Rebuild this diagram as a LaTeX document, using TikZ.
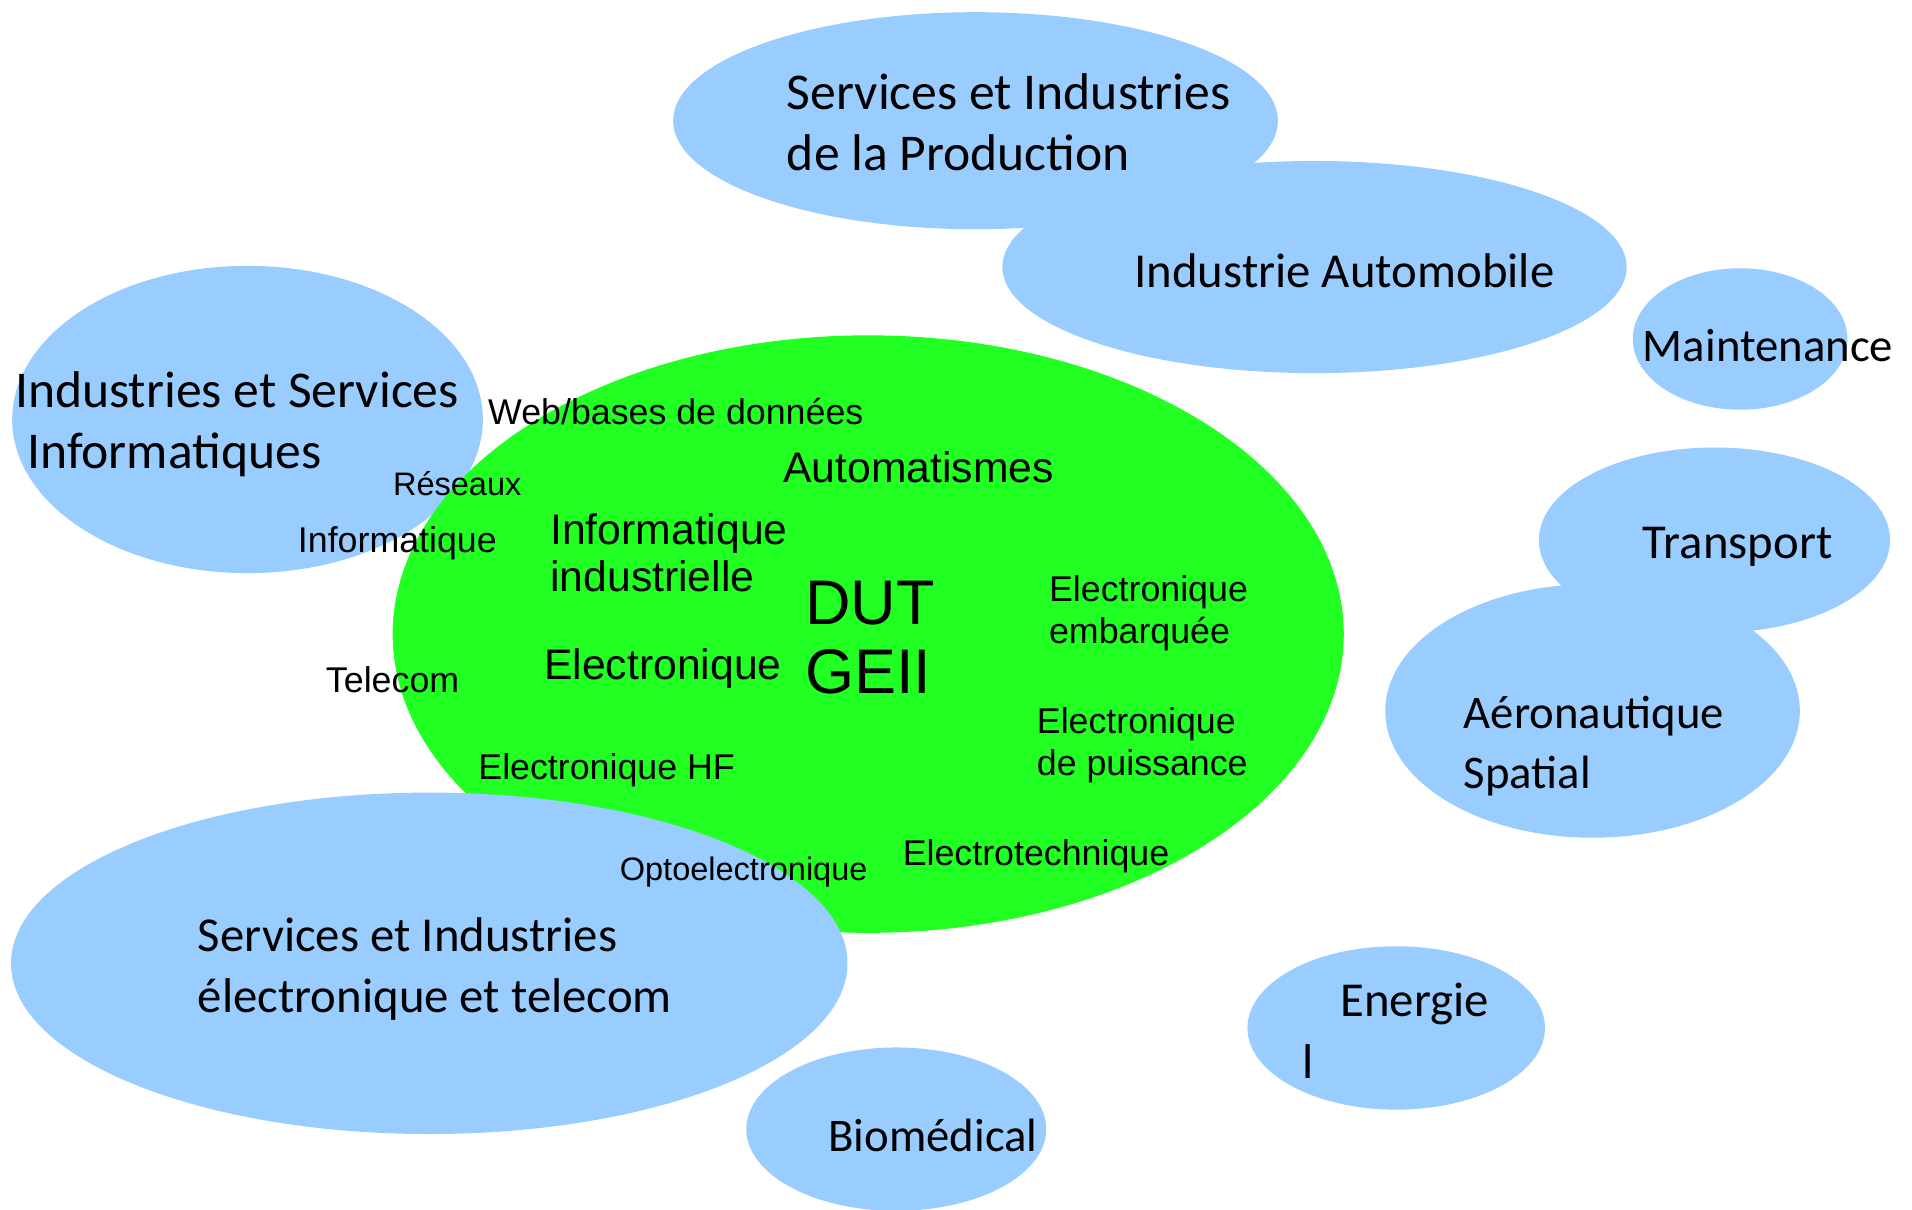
\documentclass[tikz,border=0pt]{standalone}
\usepackage{fontspec}
\setmainfont{Liberation Sans}
\newfontfamily\comicfont{Carlito}
\definecolor{skyb}{HTML}{99CCFF}
\definecolor{dutgreen}{HTML}{22FF22}
\begin{document}
\begin{tikzpicture}[x=0.6pt,y=-0.6pt,
  lbl/.style={anchor=west,inner sep=0pt,align=left,yshift=-1.4pt},
  cl/.style={lbl,font=\comicfont\fontsize{24}{30}\selectfont},
  clb/.style={lbl,font=\comicfont\fontsize{25.4}{30}\selectfont},
  cls/.style={lbl,font=\comicfont\fontsize{23}{29.4}\selectfont},
  al/.style={lbl,font=\fontsize{17.6}{21}\selectfont},
  alp/.style={lbl,font=\fontsize{17.6}{20.4}\selectfont},
  als/.style={lbl,font=\fontsize{16}{19}\selectfont},
  alb/.style={lbl,font=\fontsize{21}{23}\selectfont},
  alh/.style={lbl,font=\fontsize{31}{34}\selectfont}]
\useasboundingbox (0,0) rectangle (1568,991.5);
% blue domains
\fill[skyb] (800,99) ellipse [x radius=148.8pt, y radius=53.4pt];
\fill[skyb] (1078,219) ellipse [x radius=153.6pt, y radius=52.2pt];
\fill[skyb] (1427,278) ellipse [x radius=52.8pt, y radius=34.8pt];
\fill[skyb] (1306,583) ellipse [x radius=102pt, y radius=62.4pt];
\fill[skyb] (1406,443) ellipse [x radius=86.4pt, y radius=45.6pt];
\fill[skyb] (1145,843) ellipse [x radius=73.2pt, y radius=40.2pt];
\fill[skyb] (735,926) ellipse [x radius=73.8pt, y radius=40.2pt];
\fill[skyb] (203,344) ellipse [x radius=115.8pt, y radius=75.6pt];
% DUT
\fill[dutgreen] (712,520) ellipse [x radius=234pt, y radius=147pt];
\fill[skyb] (352,790) ellipse [x radius=205.8pt, y radius=84pt];
% comic labels
\node[clb] (prod) at (645,98) {Services et Industries\\de la Production};
\node[cl] (auto) at (930,220) {Industrie Automobile};
\node[cls] (maint) at (1347,281) {Maintenance};
\node[cl] (transp) at (1347,446) {Transport};
\node[cls] (aero) at (1200,609.5) {Aéronautique\\Spatial};
\node[cl] (energie) at (1099,821) {Energie};
\node[cl] (bar) at (1068,868) {l};
\node[cls] (bio) at (679,929) {Biomédical};
\node[cl] (electel) at (162,792.5) {Services et Industries\\électronique et telecom};
\node[clb] (infoserv) at (12,345.5) {Industries et Services\\\hspace*{6pt}Informatiques};
% DUT labels
\node[al] (web) at (400,335) {Web/bases de données};
\node[alb] (autom) at (642,381) {Automatismes};
\node[als] (reseaux) at (322,394) {Réseaux};
\node[al] (info) at (244,443) {Informatique};
\node[alb] (infoind) at (451,451) {Informatique\\industrielle};
\node[alh] (dut) at (660,520.5) {DUT\\GEII};
\node[al] (elemb) at (860,500.5) {Electronique\\embarquée};
\node[al] (telecom) at (267,555) {Telecom};
\node[alb] (elec) at (446,546) {Electronique};
\node[alp] (elpuis) at (850,609) {Electronique\\de puissance};
\node[al] (elhf) at (392,629) {Electronique HF};
\node[als] (opto) at (508,713) {Optoelectronique};
\node[al] (electrot) at (740,700) {Electrotechnique};
\end{tikzpicture}
\end{document}
